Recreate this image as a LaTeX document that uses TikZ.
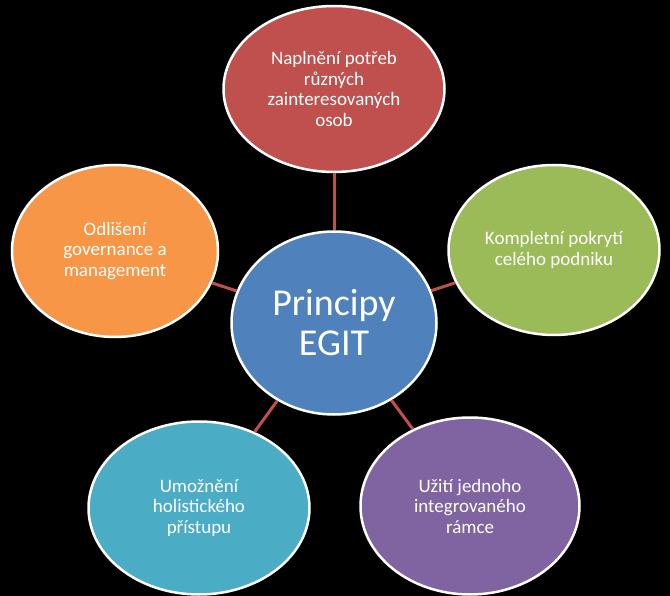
\documentclass[tikz,border=0pt]{standalone}
\usepackage{fontspec}
\setmainfont{Carlito}
\usetikzlibrary{shapes.geometric}
\definecolor{egitblue}{HTML}{4F81BD}
\definecolor{egitred}{HTML}{C0504D}
\definecolor{egitgreen}{HTML}{9BBB59}
\definecolor{egitpurple}{HTML}{8064A2}
\definecolor{egitteal}{HTML}{4BACC6}
\definecolor{egitorange}{HTML}{F79646}
\tikzset{
  bubble/.style={ellipse, draw=white, line width=2.5pt, text=white, align=center,
    inner sep=0pt, font=\fontsize{19}{20.5}\selectfont},
  link/.style={draw=egitred, line width=3pt}
}

\begin{document}
\begin{tikzpicture}[x=1pt,y=-1pt]
		\fill[black] (0,0) rectangle (670,596);
		\useasboundingbox (0,0) rectangle (670,596);
		\node[bubble, fill=egitblue, minimum width=205pt, minimum height=183pt,
		  font=\fontsize{38}{40}\selectfont] (egit) at (334,323) {Principy\\EGIT};
		\node[bubble, fill=egitred, minimum width=221pt, minimum height=166pt] (potreby) at (334,89)
		  {Naplnění potřeb\\různých\\zainteresovaných\\osob};
		\node[bubble, fill=egitgreen, minimum width=211pt, minimum height=170pt] (pokryti) at (554,250)
		  {Kompletní pokrytí\\celého podniku};
		\node[bubble, fill=egitpurple, minimum width=219pt, minimum height=177pt] (ramec) at (470,506)
		  {Užití jednoho\\integrovaného\\rámce};
		\node[bubble, fill=egitteal, minimum width=221pt, minimum height=173pt] (pristup) at (199,508)
		  {Umožnění\\holistického\\přístupu};
		\node[bubble, fill=egitorange, minimum width=206pt, minimum height=172pt] (odliseni) at (115,251)
		  {Odlišení\\governance a\\management};
		\foreach \n in {potreby,pokryti,ramec,pristup,odliseni}
		\draw[link] (egit) -- (\n);
	\end{tikzpicture}
\end{document}
